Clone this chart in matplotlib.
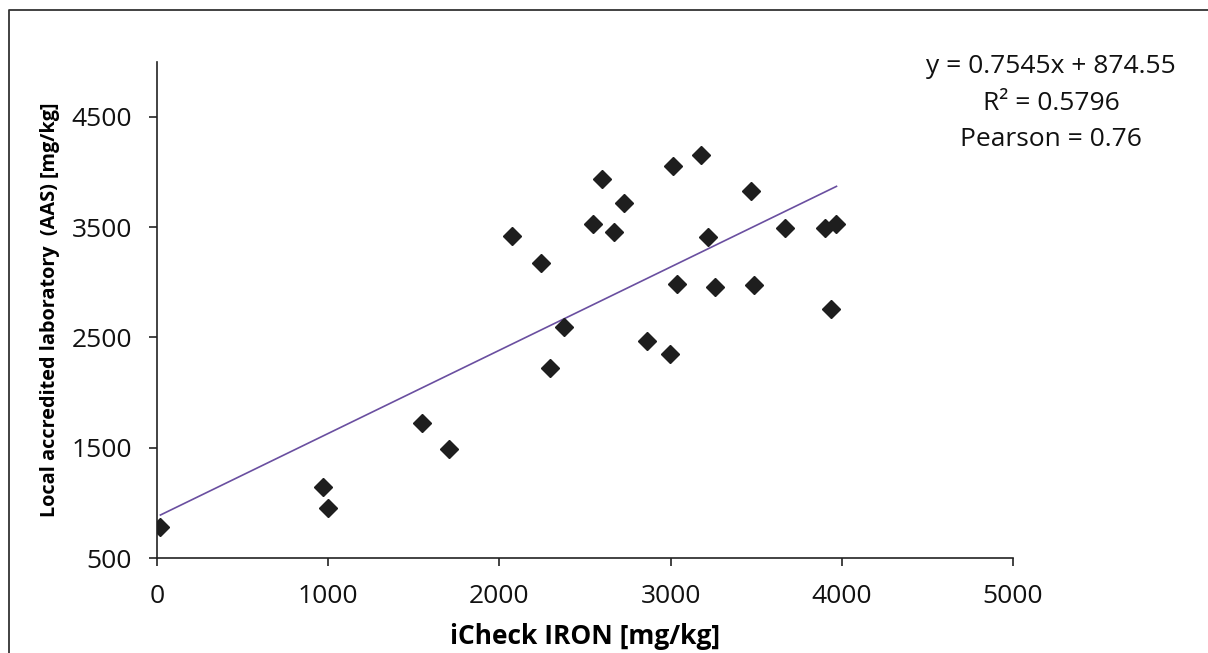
import matplotlib
matplotlib.use("Agg")
import matplotlib.pyplot as plt
from matplotlib.lines import Line2D

# iCheck IRON readings vs. local accredited laboratory (AAS), mg/kg
icheck = [20, 967, 1000, 1550, 1706, 2075, 2242, 2295, 2375, 2546, 2600, 2671,
          2727, 2864, 2994, 3012, 3039, 3175, 3219, 3257, 3472, 3488, 3667,
          3904, 3969, 3936]
lab_aas = [785, 1146, 956, 1727, 1485, 3420, 3172, 2220, 2597, 3531, 3933, 3453,
           3718, 2467, 2347, 4051, 2987, 4153, 3413, 2954, 3825, 2978, 3496,
           3496, 3528, 2754]

slope = 0.7545
intercept = 874.55
r_squared = 0.5796
pearson = 0.76

x_ticks = [0, 1000, 2000, 3000, 4000, 5000]
y_ticks = [500, 1500, 2500, 3500, 4500]

plt.rcParams['font.family'] = ['Open Sans', 'DejaVu Sans']

fig = plt.figure(figsize=(12.08, 6.53), dpi=100)
ax = fig.add_axes([157 / 1208, 1 - 558 / 653, (1013 - 157) / 1208, (558 - 61.6) / 653])

ax.plot(icheck, lab_aas, linestyle='none', marker='D', markersize=8.8,
        color='#1e1e1e', zorder=3)

x0, x1 = min(icheck), max(icheck)
ax.plot([x0, x1], [slope * x0 + intercept, slope * x1 + intercept],
        color='#6a4fa0', linewidth=1.2, zorder=2)

ax.set_xlim(0, 5000)
ax.set_ylim(500, 5000)
ax.set_xticks(x_ticks)
ax.set_yticks(y_ticks)
ax.tick_params(axis='both', labelsize=19, length=6, width=1.2, color='#222222',
               labelcolor='#111111')
ax.tick_params(axis='x', pad=13)
ax.tick_params(axis='y', pad=12)
for side in ('top', 'right'):
    ax.spines[side].set_visible(False)
for side in ('left', 'bottom'):
    ax.spines[side].set_linewidth(1.2)
    ax.spines[side].set_color('#222222')

ax.set_xlabel('iCheck IRON [mg/kg]', fontsize=19, fontweight='bold', labelpad=10)
ax.set_ylabel('Local accredited laboratory  (AAS) [mg/kg]', fontsize=14.3,
              fontweight='bold', labelpad=8)

fig.text(1051 / 1208, 1 - 103 / 653,
         f'y = {slope}x + {intercept}\nR² = {r_squared}\nPearson = {pearson}',
         ha='center', va='center', fontsize=19, linespacing=1.62, color='#111111')

# chart frame (left and top edges)
fig.add_artist(Line2D([9 / 1208, 9 / 1208, 1.0], [0.0, 1 - 10 / 653, 1 - 10 / 653],
                      transform=fig.transFigure, color='#333333', linewidth=1.3))

fig.savefig('out.png', dpi=100)
